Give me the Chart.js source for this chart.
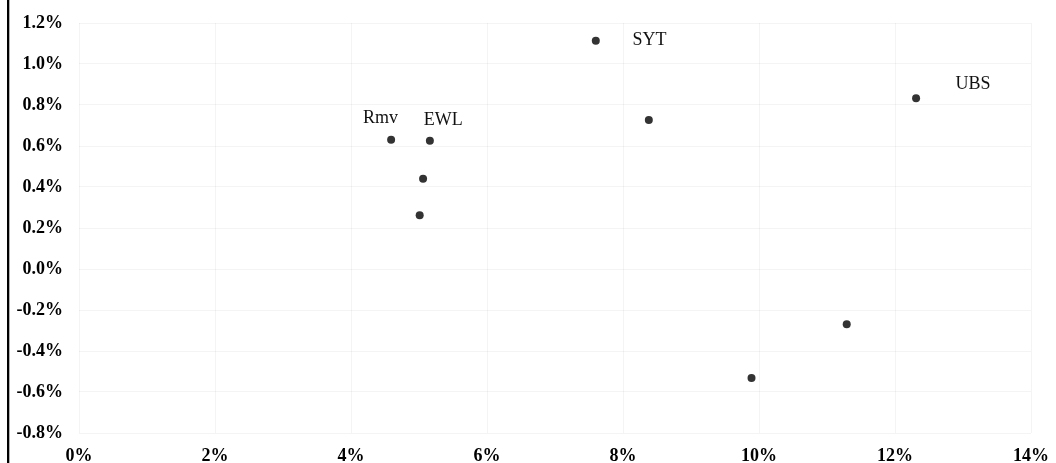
<!DOCTYPE html>
<html>
<head>
<meta charset="utf-8">
<script src="https://cdn.jsdelivr.net/npm/chart.js@4/dist/chart.umd.min.js"></script>
<style>
  html, body { margin: 0; padding: 0; background: #ffffff; }
  #wrap { position: relative; width: 1056px; height: 463px; }
</style>
</head>
<body>
<div id="wrap"><canvas id="c"></canvas></div>
<script>
// ---- data ----
const xValues = [4.59, 5.16, 5.06, 5.01, 7.60, 8.38, 12.31, 11.29, 9.89];
const yValues = [0.631, 0.626, 0.440, 0.262, 1.114, 0.727, 0.833, -0.270, -0.532];
const pointNames = ['Rmv', 'EWL', '', '', 'SYT', '', 'UBS', '', ''];
const xTickValues = [0, 2, 4, 6, 8, 10, 12, 14];
const yTickValues = [-0.8, -0.6, -0.4, -0.2, 0.0, 0.2, 0.4, 0.6, 0.8, 1.0, 1.2];

const points = xValues.map((x, i) => ({ x: x, y: yValues[i] }));

// label placement (pixel offsets from each named point)
const labelOffsets = {
  Rmv: { dx: -10.5, dy: -21 },
  EWL: { dx: 13.3, dy: -20 },
  SYT: { dx: 53.7, dy: 0 },
  UBS: { dx: 57, dy: -14 }
};

const decorPlugin = {
  id: 'decor',
  beforeDraw(chart) {
    const ctx = chart.ctx;
    ctx.save();
    ctx.fillStyle = '#ffffff';
    ctx.fillRect(0, 0, chart.width, chart.height);
    ctx.fillStyle = '#000000';
    ctx.fillRect(7, 0, 2.3, chart.height);
    ctx.restore();
  },
  afterDatasetsDraw(chart) {
    const ctx = chart.ctx;
    const meta = chart.getDatasetMeta(0);
    ctx.save();
    ctx.font = '18px "Liberation Serif", "Times New Roman", serif';
    ctx.fillStyle = '#111111';
    ctx.textAlign = 'center';
    ctx.textBaseline = 'middle';
    meta.data.forEach((el, i) => {
      const name = pointNames[i];
      if (!name) return;
      const off = labelOffsets[name] || { dx: 0, dy: -15 };
      ctx.fillText(name, el.x + off.dx, el.y + off.dy);
    });
    ctx.restore();
  }
};

const tickFont = { family: '"Liberation Serif", "Times New Roman", serif', size: 18, weight: 'bold' };

new Chart(document.getElementById('c'), {
  type: 'scatter',
  data: {
    datasets: [{
      data: points,
      backgroundColor: '#333333',
      borderColor: '#333333',
      pointRadius: 4,
      pointHoverRadius: 4,
      borderWidth: 0
    }]
  },
  options: {
    responsive: true,
    maintainAspectRatio: false,
    animation: false,
    events: [],
    layout: { padding: { left: 0, right: 25, top: 23, bottom: 0 } },
    plugins: {
      legend: { display: false },
      tooltip: { enabled: false },
      title: { display: false }
    },
    scales: {
      x: {
        type: 'linear',
        min: 0,
        max: 14,
        afterBuildTicks(scale) { scale.ticks = xTickValues.map(v => ({ value: v })); },
        afterFit(scale) {
          scale.height = 30;
          scale.paddingLeft = 0; scale.paddingRight = 0;
          scale.paddingTop = 0; scale.paddingBottom = 0;
        },
        grid: { color: 'rgba(0,0,0,0.045)', drawTicks: false, lineWidth: 1 },
        border: { display: false },
        ticks: {
          padding: 13,
          color: '#000000',
          font: tickFont,
          maxRotation: 0,
          autoSkip: false,
          callback: v => v + '%'
        }
      },
      y: {
        type: 'linear',
        min: -0.8,
        max: 1.2,
        afterBuildTicks(scale) { scale.ticks = yTickValues.map(v => ({ value: v })); },
        afterFit(scale) {
          scale.width = 79;
          scale.paddingLeft = 0; scale.paddingRight = 0;
          scale.paddingTop = 0; scale.paddingBottom = 0;
        },
        grid: { color: 'rgba(0,0,0,0.045)', drawTicks: false, lineWidth: 1 },
        border: { display: false },
        ticks: {
          padding: 16,
          color: '#000000',
          font: tickFont,
          autoSkip: false,
          callback: v => (Math.abs(v) < 1e-9 ? 0 : v).toFixed(1) + '%'
        }
      }
    }
  },
  plugins: [decorPlugin]
});
</script>
</body>
</html>
